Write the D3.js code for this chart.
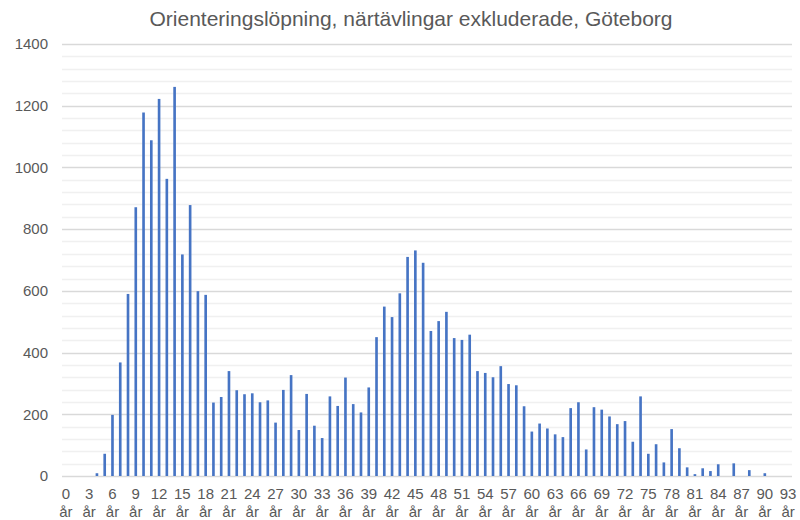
<!DOCTYPE html>
<html>
<head>
<meta charset="utf-8">
<script src="https://cdn.jsdelivr.net/npm/d3@7"></script>
<style>
  body { margin: 0; background: #fff; }
  svg { font-family: "Liberation Sans", Arial, sans-serif; }
</style>
</head>
<body>
<div id="chart"></div>
<script>
// data
const title = "Orienteringslöpning, närtävlingar exkluderade, Göteborg";

const ages = d3.range(0, 94); // 0 år ... 93 år

const counts = [
  0, 0, 0, 0, 9, 72, 198, 368, 590, 871,
  1178, 1088, 1222, 963, 1261, 718, 878, 599, 587, 238,
  256, 340, 278, 265, 268, 239, 245, 173, 279, 327,
  149, 266, 163, 123, 258, 227, 319, 233, 206, 287,
  450, 549, 515, 592, 710, 731, 691, 470, 502, 532,
  447, 441, 458, 340, 334, 320, 356, 298, 294, 226,
  144, 170, 154, 135, 126, 220, 239, 86, 223, 215,
  193, 168, 178, 111, 258, 72, 103, 44, 152, 90,
  28, 6, 25, 16, 38, 0, 41, 0, 19, 0,
  9, 0, 0, 0
];

const yTicks = [0, 200, 400, 600, 800, 1000, 1200, 1400];

const data = ages.map((a, i) => ({ age: a, value: counts[i] }));

const width = 800, height = 520;
const margin = { top: 44, right: 8, bottom: 44, left: 62 };

const svg = d3.select("#chart").append("svg")
    .attr("width", width)
    .attr("height", height);

const x = d3.scaleBand()
    .domain(ages)
    .range([margin.left, width - margin.right])
    .paddingInner(0.66)
    .paddingOuter(0.33);

const y = d3.scaleLinear()
    .domain([0, 1400])
    .range([height - margin.bottom, margin.top]);

// minor gridlines (every 40)
svg.append("g")
  .selectAll("line")
  .data(d3.range(0, 1400, 40).filter(v => v % 200 !== 0))
  .join("line")
    .attr("x1", margin.left)
    .attr("x2", width - margin.right)
    .attr("y1", d => Math.round(y(d)) + 0.5)
    .attr("y2", d => Math.round(y(d)) + 0.5)
    .attr("stroke", "#f0f0f0")
    .attr("stroke-width", 1.5);

// major gridlines
svg.append("g")
  .selectAll("line")
  .data(yTicks)
  .join("line")
    .attr("x1", margin.left)
    .attr("x2", width - margin.right)
    .attr("y1", d => Math.round(y(d)) + 0.5)
    .attr("y2", d => Math.round(y(d)) + 0.5)
    .attr("stroke", "#d9d9d9")
    .attr("stroke-width", 1.5);

// y axis labels
const yAxis = d3.axisLeft(y)
    .tickValues(yTicks)
    .tickFormat(d3.format("d"))
    .tickSize(0)
    .tickPadding(0);

svg.append("g")
    .attr("transform", `translate(48,0)`)
    .call(yAxis)
    .call(g => g.select(".domain").remove())
    .call(g => g.selectAll("text")
        .attr("font-family", "Liberation Sans, Arial, sans-serif")
        .attr("font-size", "15px")
        .attr("fill", "#595959"));

// bars
svg.append("g")
  .selectAll("rect")
  .data(data)
  .join("rect")
    .attr("x", d => x(d.age))
    .attr("y", d => y(d.value))
    .attr("width", x.bandwidth())
    .attr("height", d => y(0) - y(d.value))
    .attr("fill", "#4674c4");

// x axis labels (every 3rd age, two lines)
const xAxis = d3.axisBottom(x)
    .tickValues(ages.filter(a => a % 3 === 0))
    .tickSize(0)
    .tickPadding(0)
    .tickFormat(d => d);

svg.append("g")
    .attr("transform", `translate(0,${height - margin.bottom})`)
    .call(xAxis)
    .call(g => g.select(".domain").remove())
    .call(g => g.selectAll("text").each(function(d) {
      const t = d3.select(this)
          .attr("y", 0)
          .attr("dy", null)
          .attr("font-family", "Liberation Sans, Arial, sans-serif")
          .attr("font-size", "15px")
          .attr("fill", "#595959")
          .text(null);
      t.append("tspan").attr("x", 0).attr("y", 23).text(d);
      t.append("tspan").attr("x", 0).attr("y", 41).text("år");
    }));

// title
svg.append("text")
    .attr("x", 411)
    .attr("y", 26)
    .attr("text-anchor", "middle")
    .attr("font-size", "21px")
    .attr("fill", "#595959")
    .text(title);
</script>
</body>
</html>
